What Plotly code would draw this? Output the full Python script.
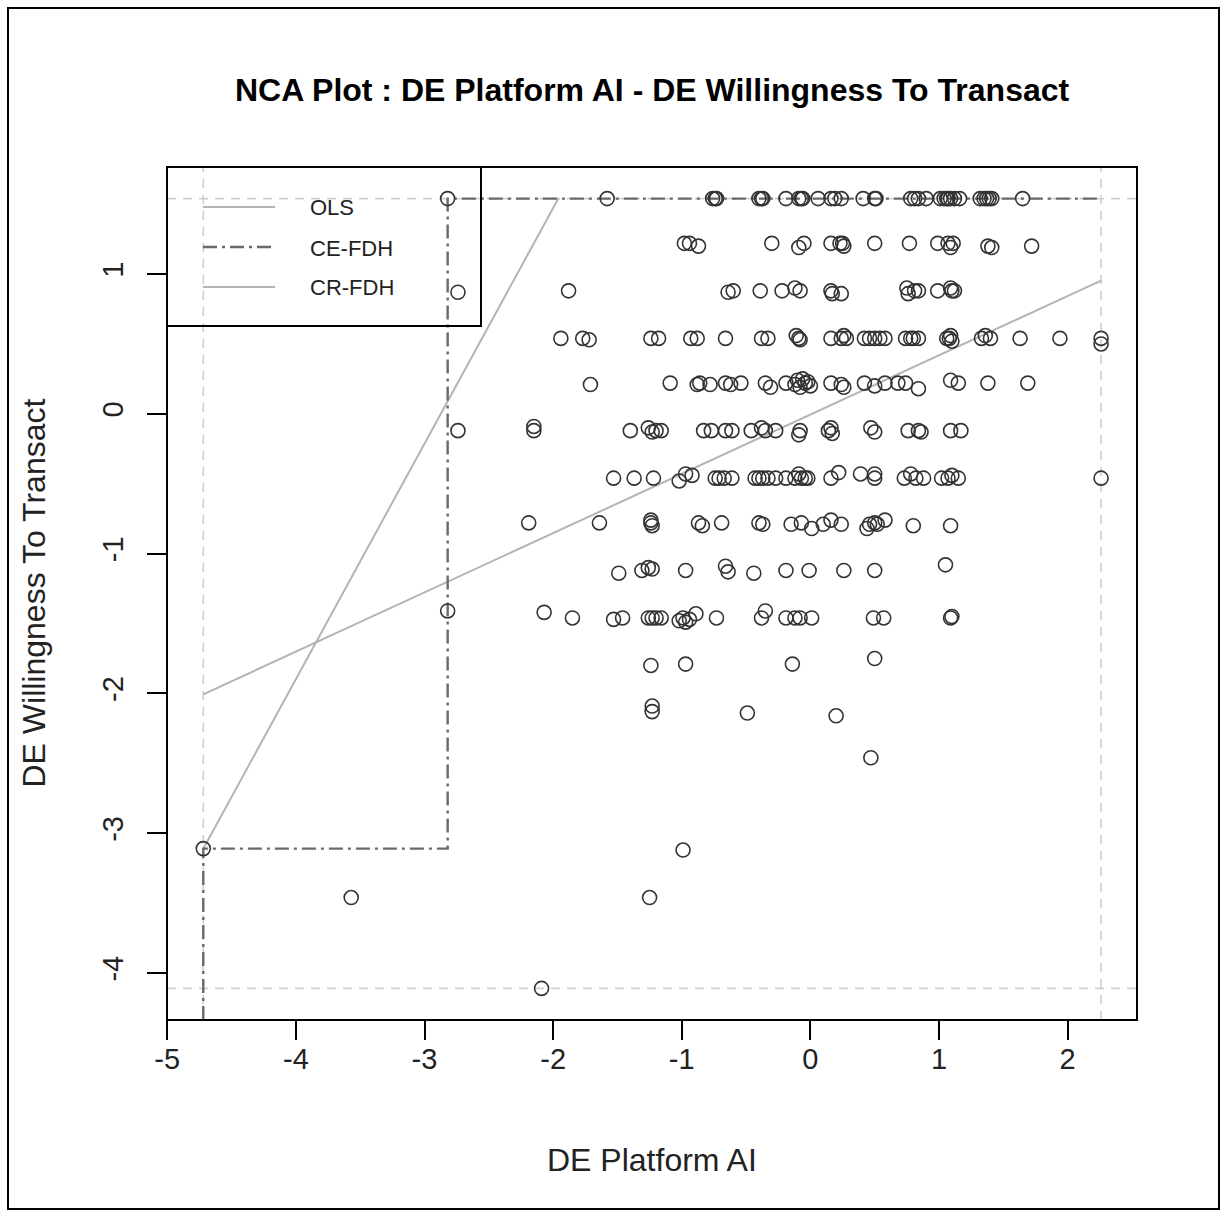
import numpy as np
import plotly.graph_objects as go

# ---------------- data ----------------
platform_ai = [
    # row ~1.54
    -2.82, -1.58, -0.76, -0.73, -0.74, -0.40, -0.37, -0.38, -0.19, -0.09, -0.06, -0.07, 0.06, 0.16, 0.24, 0.19,
    0.41, 0.50, 0.51, 0.78, 0.84, 0.81, 0.90, 1.01, 1.04, 1.07, 1.09, 1.06, 1.12, 1.16, 1.32, 1.35, 1.37, 1.39, 1.41, 1.65,
    # row ~1.21
    -0.98, -0.94, -0.87, -0.30, -0.09, -0.05, 0.16, 0.23, 0.26, 0.25, 0.50, 0.77, 0.99, 1.07, 1.09, 1.11, 1.38, 1.41, 1.72,
    # row ~0.88
    -2.74, -1.88, -0.64, -0.60, -0.39, -0.22, -0.12, -0.08, 0.16, 0.17, 0.24, 0.76, 0.75, 0.81, 0.84, 0.99, 1.09, 1.10, 1.12,
    # row ~0.54
    -1.94, -1.77, -1.72, -1.24, -1.18, -0.93, -0.88, -0.66, -0.38, -0.33, -0.11, -0.09, -0.08, 0.16, 0.24, 0.26, 0.28,
    0.42, 0.46, 0.50, 0.54, 0.58, 0.74, 0.78, 0.80, 0.84, 1.06, 1.08, 1.09, 1.10, 1.33, 1.36, 1.40, 1.63, 1.94, 2.26, 2.26,
    # row ~0.21
    -1.71, -1.09, -0.88, -0.86, -0.78, -0.66, -0.62, -0.54, -0.35, -0.31, -0.19, -0.12, -0.10, -0.08, -0.06, -0.04,
    -0.02, 0.00, 0.16, 0.24, 0.26, 0.42, 0.50, 0.58, 0.68, 0.74, 0.84, 1.09, 1.15, 1.38, 1.69,
    # row ~-0.12
    -2.74, -2.15, -2.15, -1.40, -1.26, -1.23, -1.20, -1.16, -0.83, -0.77, -0.66, -0.61, -0.46, -0.38, -0.35, -0.27,
    -0.09, -0.08, 0.16, 0.17, 0.14, 0.47, 0.50, 0.76, 0.84, 0.86, 1.09, 1.17,
    # row ~-0.46
    -1.53, -1.37, -1.22, -1.02, -0.97, -0.92, -0.74, -0.71, -0.67, -0.61, -0.43, -0.40, -0.37, -0.33, -0.27, -0.19,
    -0.12, -0.09, -0.07, -0.04, -0.02, 0.16, 0.22, 0.39, 0.50, 0.50, 0.73, 0.78, 0.82, 0.88, 1.02, 1.07, 1.10, 1.15, 2.26,
    # row ~-0.79
    -2.19, -1.64, -1.24, -1.23, -1.24, -0.87, -0.84, -0.69, -0.40, -0.37, -0.15, -0.07, 0.01, 0.10, 0.16, 0.24,
    0.44, 0.46, 0.50, 0.52, 0.58, 0.80, 1.09,
    # row ~-1.12
    -1.49, -1.31, -1.26, -1.23, -0.97, -0.66, -0.64, -0.44, -0.19, -0.01, 0.26, 0.50, 1.05,
    # row ~-1.46
    -2.82, -2.07, -1.85, -1.53, -1.46, -1.26, -1.23, -1.20, -1.16, -1.02, -0.99, -0.97, -0.94, -0.89, -0.73, -0.38,
    -0.35, -0.19, -0.12, -0.08, 0.01, 0.49, 0.57, 1.09, 1.10,
    # lower points
    -1.24, -0.97, -0.14, 0.50, -1.23, -1.23, -0.49, 0.20, 0.47, -4.72, -3.57, -1.25, -0.99, -2.09,
]
willingness = [
    # row ~1.54
    1.54, 1.54, 1.54, 1.54, 1.54, 1.54, 1.54, 1.54, 1.54, 1.54, 1.54, 1.54, 1.54, 1.54, 1.54, 1.54,
    1.54, 1.54, 1.54, 1.54, 1.54, 1.54, 1.54, 1.54, 1.54, 1.54, 1.54, 1.54, 1.54, 1.54, 1.54, 1.54, 1.54, 1.54, 1.54, 1.54,
    # row ~1.21
    1.22, 1.22, 1.20, 1.22, 1.19, 1.22, 1.22, 1.22, 1.20, 1.22, 1.22, 1.22, 1.22, 1.22, 1.19, 1.22, 1.20, 1.19, 1.20,
    # row ~0.88
    0.87, 0.88, 0.87, 0.88, 0.88, 0.88, 0.90, 0.88, 0.88, 0.86, 0.86, 0.86, 0.90, 0.88, 0.88, 0.88, 0.90, 0.88, 0.88,
    # row ~0.54
    0.54, 0.54, 0.53, 0.54, 0.54, 0.54, 0.54, 0.54, 0.54, 0.54, 0.56, 0.54, 0.53, 0.54, 0.54, 0.56, 0.54,
    0.54, 0.54, 0.54, 0.54, 0.54, 0.54, 0.54, 0.54, 0.54, 0.54, 0.54, 0.56, 0.52, 0.54, 0.56, 0.54, 0.54, 0.54, 0.54, 0.50,
    # row ~0.21
    0.21, 0.22, 0.21, 0.22, 0.21, 0.22, 0.21, 0.22, 0.22, 0.19, 0.22, 0.21, 0.24, 0.19, 0.25, 0.22,
    0.23, 0.20, 0.22, 0.21, 0.19, 0.22, 0.20, 0.22, 0.22, 0.22, 0.18, 0.24, 0.22, 0.22, 0.22,
    # row ~-0.12
    -0.12, -0.09, -0.12, -0.12, -0.10, -0.13, -0.12, -0.12, -0.12, -0.12, -0.12, -0.12, -0.12, -0.10, -0.12, -0.12,
    -0.15, -0.12, -0.10, -0.14, -0.12, -0.10, -0.13, -0.12, -0.12, -0.13, -0.12, -0.12,
    # row ~-0.46
    -0.46, -0.46, -0.46, -0.48, -0.43, -0.44, -0.46, -0.46, -0.46, -0.46, -0.46, -0.46, -0.46, -0.46, -0.46, -0.46,
    -0.46, -0.43, -0.46, -0.46, -0.46, -0.46, -0.42, -0.43, -0.46, -0.43, -0.46, -0.43, -0.46, -0.46, -0.46, -0.46, -0.44, -0.46, -0.46,
    # row ~-0.79
    -0.78, -0.78, -0.78, -0.80, -0.76, -0.78, -0.80, -0.78, -0.78, -0.79, -0.79, -0.78, -0.82, -0.79, -0.76, -0.79,
    -0.82, -0.79, -0.78, -0.79, -0.76, -0.80, -0.80,
    # row ~-1.12
    -1.14, -1.12, -1.10, -1.11, -1.12, -1.09, -1.13, -1.14, -1.12, -1.12, -1.12, -1.12, -1.08,
    # row ~-1.46
    -1.41, -1.42, -1.46, -1.47, -1.46, -1.46, -1.46, -1.46, -1.46, -1.48, -1.46, -1.49, -1.47, -1.43, -1.46, -1.46,
    -1.41, -1.46, -1.46, -1.46, -1.46, -1.46, -1.46, -1.46, -1.45,
    # lower points
    -1.80, -1.79, -1.79, -1.75, -2.09, -2.13, -2.14, -2.16, -2.46, -3.11, -3.46, -3.46, -3.12, -4.11,
]

x_ticks = [-5, -4, -3, -2, -1, 0, 1, 2]
x_tick_labels = ["-5", "-4", "-3", "-2", "-1", "0", "1", "2"]
y_ticks = [-4, -3, -2, -1, 0, 1]
y_tick_labels = ["-4", "-3", "-2", "-1", "0", "1"]

ols_intercept = -0.005
ols_slope = 0.424
cr_fdh_intercept = 4.842
cr_fdh_slope = 1.685

legend_labels = ["OLS", "CE-FDH", "CR-FDH"]
title_text = "NCA Plot : DE Platform AI - DE Willingness To Transact"
x_title = "DE Platform AI"
y_title = "DE Willingness To Transact"

# ---------------- derived quantities ----------------
x = np.array(platform_ai)
y = np.array(willingness)
xmin, xmax = x.min(), x.max()
ymin, ymax = y.min(), y.max()
xr = [xmin - 0.04 * (xmax - xmin), xmax + 0.04 * (xmax - xmin)]
yr = [ymin - 0.04 * (ymax - ymin), ymax + 0.04 * (ymax - ymin)]
# keep the boundary tick (R draws ticks that sit on the plot edge)
xr[0] = min(xr[0], x_ticks[0] - 0.002)

# CE-FDH step ceiling from data
order = np.lexsort((-y, x))
xs, ys = x[order], y[order]
ce_x = [xmin]
ce_y = [yr[0]]
cur = -np.inf
for xi, yi in zip(xs, ys):
    if yi > cur:
        if cur == -np.inf:
            ce_x.append(xi); ce_y.append(yi)
        else:
            ce_x += [xi, xi]; ce_y += [cur, yi]
        cur = yi
ce_x.append(xmax); ce_y.append(cur)

# OLS line across scope
ols_x = [xmin, xmax]
ols_y = [ols_intercept + ols_slope * v for v in ols_x]
# CR-FDH from xmin until it reaches ymax
cr_x = [xmin, (ymax - cr_fdh_intercept) / cr_fdh_slope]
cr_y = [cr_fdh_intercept + cr_fdh_slope * v for v in cr_x]

GRAY_LIGHT = "#b4b4b4"
GRAY_SCOPE = "#cfcfcf"
GRAY_CE = "#6a6a6a"
FONT = "Liberation Sans, Arial, Helvetica, sans-serif"

fig = go.Figure()

# scope lines (dashed, light gray, across plot)
for xv in [xmin, xmax]:
    fig.add_trace(go.Scatter(x=[xv, xv], y=yr, mode="lines", showlegend=False, hoverinfo="skip",
                             line=dict(color=GRAY_SCOPE, width=1.6, dash="9px,7px")))
for yv in [ymin, ymax]:
    fig.add_trace(go.Scatter(x=xr, y=[yv, yv], mode="lines", showlegend=False, hoverinfo="skip",
                             line=dict(color=GRAY_SCOPE, width=1.6, dash="9px,7px")))

fig.add_trace(go.Scatter(x=ols_x, y=ols_y, mode="lines", showlegend=False,
                         line=dict(color=GRAY_LIGHT, width=2)))
fig.add_trace(go.Scatter(x=cr_x, y=cr_y, mode="lines", showlegend=False,
                         line=dict(color=GRAY_LIGHT, width=2)))
fig.add_trace(go.Scatter(x=ce_x, y=ce_y, mode="lines", showlegend=False,
                         line=dict(color=GRAY_CE, width=2.4, dash="14px,5px,3px,5px")))

fig.add_trace(go.Scatter(x=platform_ai, y=willingness, mode="markers", showlegend=False,
                         marker=dict(symbol="circle-open", size=14, color="#333333",
                                     line=dict(width=1.6, color="#333333"))))

# plot geometry (pixels)
L, R, T, B = 167, 1137, 167, 1020
W, H = 1227, 1214
pw, ph = R - L, B - T


def px(xp):
    return (xp - L) / pw


def py(yp):
    return (B - yp) / ph


shapes = []
# plot frame
shapes.append(dict(type="rect", xref="paper", yref="paper", x0=0, x1=1, y0=0, y1=1,
                   line=dict(color="black", width=2)))
# outer border of the picture
shapes.append(dict(type="rect", xref="paper", yref="paper", x0=px(8), x1=px(1219), y0=py(1209), y1=py(8),
                   line=dict(color="black", width=2)))
# legend box
shapes.append(dict(type="rect", xref="paper", yref="paper", x0=0, x1=px(481), y0=py(326), y1=1,
                   line=dict(color="black", width=2)))
leg_y = [207, 247, 287]
leg_styles = [dict(color=GRAY_LIGHT, width=2), dict(color=GRAY_CE, width=2.4, dash="14px,5px,3px,5px"),
              dict(color=GRAY_LIGHT, width=2)]
annotations = []
for lbl, ly, st in zip(legend_labels, leg_y, leg_styles):
    shapes.append(dict(type="line", xref="paper", yref="paper", x0=px(203), x1=px(275), y0=py(ly), y1=py(ly),
                       line=st))
    annotations.append(dict(text=lbl, xref="paper", yref="paper", x=px(308), y=py(ly + 1), xanchor="left",
                            yanchor="middle", showarrow=False, font=dict(size=22, color="#222", family=FONT)))

annotations.append(dict(text="<b>" + title_text + "</b>", xref="paper", yref="paper", x=0.5, y=py(90),
                        xanchor="center", yanchor="middle", showarrow=False,
                        font=dict(size=32, color="black", family=FONT)))
annotations.append(dict(text=x_title, xref="paper", yref="paper", x=0.5, y=py(1160),
                        xanchor="center", yanchor="middle", showarrow=False,
                        font=dict(size=32, color="#222", family=FONT)))
annotations.append(dict(text=y_title, xref="paper", yref="paper", x=px(33), y=0.5, textangle=-90,
                        xanchor="center", yanchor="middle", showarrow=False,
                        font=dict(size=32, color="#222", family=FONT)))

fig.update_layout(
    width=W, height=H, autosize=False,
    margin=dict(l=L, r=W - R, t=T, b=H - B, pad=0),
    paper_bgcolor="white", plot_bgcolor="white",
    shapes=shapes, annotations=annotations,
    font=dict(family=FONT, color="#222"),
)
fig.update_xaxes(range=xr, tickvals=x_ticks, ticktext=x_tick_labels, ticks="outside", ticklen=19,
                 tickwidth=1.6, tickcolor="black", showgrid=False, zeroline=False, showline=False,
                 ticklabelstandoff=-6,
                 tickfont=dict(size=29, color="#222", family=FONT))
fig.update_yaxes(range=yr, tickvals=y_ticks, ticktext=y_tick_labels, ticks="outside", ticklen=19,
                 tickwidth=1.6, tickcolor="black", showgrid=False, zeroline=False, showline=False,
                 tickangle=-90, ticklabelstandoff=12,
                 tickfont=dict(size=29, color="#222", family=FONT))

fig.write_html("out.html")
